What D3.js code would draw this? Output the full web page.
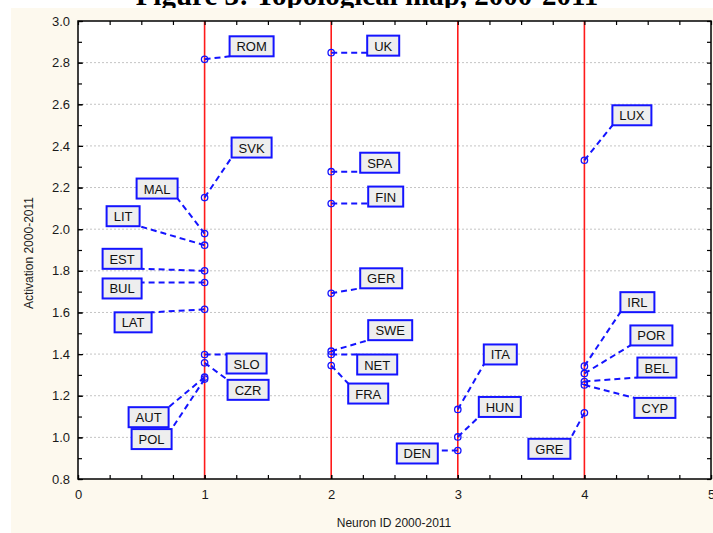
<!DOCTYPE html>
<html>
<head>
<meta charset="utf-8">
<script src="https://cdn.jsdelivr.net/npm/d3@7"></script>
<style>
  html, body { margin: 0; padding: 0; background: #ffffff; }
  svg { display: block; }
  text { font-family: "Liberation Sans", Arial, sans-serif; }
</style>
</head>
<body>
<svg id="chart" width="713" height="533"></svg>
<script>
// Countries placed on the self-organising map, 2000-2011
const countries = ["ROM","SVK","MAL","LIT","EST","BUL","LAT","SLO","CZR","AUT","POL",
                   "UK","SPA","FIN","GER","SWE","NET","FRA",
                   "ITA","HUN","DEN",
                   "LUX","IRL","POR","BEL","CYP","GRE"];
const neuronId = [1,1,1,1,1,1,1,1,1,1,1,
                  2,2,2,2,2,2,2,
                  3,3,3,
                  4,4,4,4,4,4];
const activation = [2.816,2.152,1.979,1.923,1.800,1.744,1.615,1.398,1.358,1.289,1.280,
                    2.848,2.276,2.123,1.692,1.414,1.398,1.345,
                    1.134,1.002,0.937,
                    2.331,1.342,1.307,1.268,1.252,1.118];

// Axis ticks
const xTickLabels = [0,1,2,3,4,5];
const yTickLabels = [0.8,1.0,1.2,1.4,1.6,1.8,2.0,2.2,2.4,2.6,2.8,3.0];
const neuronLines = [1,2,3,4];

// Label box placement: offset of each box from its point (px).
// Positive dx: box left edge; negative dx: box right edge (box sits to the left).
const labelOffset = [
  [25,-23],[27,-60],[-27,-55],[-65,-39],[-63,-22],[-63,-4],[-53,3],[22,-1],[23,17],[-36,30],[-33,50],
  [36,-17],[29,-19],[37,-17],[29,-25],[37,-31],[26,0],[17,18],
  [26,-65],[21,-40],[-20,-7],
  [28,-55],[36,-74],[46,-48],[53,-24],[50,13],[-14,26]
];

const svg = d3.select("#chart");
const W = 713, H = 533;
const plot = {left: 78, right: 711, top: 21, bottom: 479};

const x = d3.scaleLinear().domain([0, 5]).range([plot.left, plot.right]);
const y = d3.scaleLinear().domain([0.8, 3.0]).range([plot.bottom, plot.top]);

// Title (sits above the panel, partly clipped by the page edge)
svg.append("text")
  .attr("x", 367).attr("y", 5)
  .attr("text-anchor", "middle")
  .style("font-family", "'Liberation Serif', 'Times New Roman', serif")
  .style("font-weight", "bold")
  .style("font-size", "29px")
  .attr("fill", "#000")
  .text("Figure 3: Topological map, 2000-2011");

// Panel background
svg.append("rect")
  .attr("x", 11).attr("y", 8).attr("width", W - 11).attr("height", H - 8)
  .attr("fill", "#fdf9ee");

// Plot area
svg.append("rect")
  .attr("x", plot.left).attr("y", plot.top)
  .attr("width", plot.right - plot.left).attr("height", plot.bottom - plot.top)
  .attr("fill", "#ffffff");

// Horizontal dotted grid
svg.append("g")
  .selectAll("line")
  .data(yTickLabels.filter(v => v > 0.8 && v < 3.0))
  .join("line")
  .attr("x1", plot.left).attr("x2", plot.right)
  .attr("y1", d => y(d)).attr("y2", d => y(d))
  .attr("stroke", "#c4c4c4")
  .attr("stroke-width", 1)
  .attr("stroke-dasharray", "2,2");

// Neuron boundaries
svg.append("g")
  .selectAll("line")
  .data(neuronLines)
  .join("line")
  .attr("x1", d => x(d)).attr("x2", d => x(d))
  .attr("y1", plot.top).attr("y2", plot.bottom)
  .attr("stroke", "#ff1a1a")
  .attr("stroke-width", 1.6);

// Axes with inward ticks
const yMinor = d3.range(0.8, 3.0001, 0.1);
const xMinor = d3.range(0, 5.0001, 0.25);

svg.append("g")
  .attr("transform", `translate(${plot.left},0)`)
  .call(d3.axisLeft(y).tickValues(yTickLabels).tickSize(-5).tickPadding(8)
        .tickFormat(d3.format(".1f")));
svg.append("g")
  .attr("transform", `translate(${plot.left},0)`)
  .call(d3.axisLeft(y).tickValues(yMinor).tickSize(-4).tickFormat(""));
svg.append("g")
  .attr("transform", `translate(${plot.right},0)`)
  .call(d3.axisRight(y).tickValues(yMinor).tickSize(-4).tickFormat(""));

svg.append("g")
  .attr("transform", `translate(0,${plot.bottom})`)
  .call(d3.axisBottom(x).tickValues(xTickLabels).tickSize(-4).tickPadding(11)
        .tickFormat(d3.format("d")));
svg.append("g")
  .attr("transform", `translate(0,${plot.bottom})`)
  .call(d3.axisBottom(x).tickValues(xMinor).tickSize(-4).tickFormat(""));
svg.append("g")
  .attr("transform", `translate(0,${plot.top})`)
  .call(d3.axisTop(x).tickValues(xMinor).tickSize(-4).tickFormat(""));

svg.selectAll(".domain").remove();
svg.selectAll(".tick line").attr("stroke", "#000").attr("stroke-width", 1.2);
svg.selectAll(".tick text")
  .attr("fill", "#1a1a1a")
  .style("font-family", "'Liberation Sans', Arial, sans-serif")
  .style("font-size", "13px");

// Plot frame
svg.append("rect")
  .attr("x", plot.left).attr("y", plot.top)
  .attr("width", plot.right - plot.left).attr("height", plot.bottom - plot.top)
  .attr("fill", "none")
  .attr("stroke", "#000")
  .attr("stroke-width", 1.5);

// Axis titles
svg.append("text")
  .attr("x", 394).attr("y", 527)
  .attr("text-anchor", "middle")
  .style("font-size", "12px")
  .attr("fill", "#1a1a1a")
  .text("Neuron ID 2000-2011");
svg.append("text")
  .attr("transform", "translate(33,253) rotate(-90)")
  .attr("text-anchor", "middle")
  .style("font-size", "12px")
  .attr("fill", "#1a1a1a")
  .text("Activation 2000-2011");

// Country labels with leader lines
const blue = "#1414ff";
const pts = countries.map((c, i) => ({
  name: c,
  px: x(neuronId[i]),
  py: y(activation[i]),
  off: labelOffset[i]
}));

const measure = svg.append("text").style("font-size", "13px").attr("opacity", 0);
pts.forEach(p => {
  measure.text(p.name);
  p.w = Math.round(measure.node().getComputedTextLength() + 14);
  p.h = 20;
  p.bx = p.off[0] >= 0 ? p.px + p.off[0] : p.px + p.off[0] - p.w;
  p.by = p.py + p.off[1];
  // nearest point of the box to the data point
  p.ex = Math.max(p.bx, Math.min(p.px, p.bx + p.w));
  p.ey = Math.max(p.by, Math.min(p.py, p.by + p.h));
});
measure.remove();

svg.append("g")
  .selectAll("line")
  .data(pts)
  .join("line")
  .attr("x1", d => d.px).attr("y1", d => d.py)
  .attr("x2", d => d.ex).attr("y2", d => d.ey)
  .attr("stroke", blue)
  .attr("stroke-width", 2)
  .attr("stroke-dasharray", "6,4");

svg.append("g")
  .selectAll("circle")
  .data(pts)
  .join("circle")
  .attr("cx", d => d.px).attr("cy", d => d.py)
  .attr("r", 3.2)
  .attr("fill", "none")
  .attr("stroke", blue)
  .attr("stroke-width", 1.3);

const boxes = svg.append("g")
  .selectAll("g")
  .data(pts)
  .join("g");
boxes.append("rect")
  .attr("x", d => d.bx).attr("y", d => d.by)
  .attr("width", d => d.w).attr("height", d => d.h)
  .attr("fill", "#eeeeee")
  .attr("stroke", blue)
  .attr("stroke-width", 2);
boxes.append("text")
  .attr("x", d => d.bx + d.w / 2)
  .attr("y", d => d.by + 15)
  .attr("text-anchor", "middle")
  .style("font-size", "13px")
  .attr("fill", "#111")
  .text(d => d.name);
</script>
</body>
</html>
